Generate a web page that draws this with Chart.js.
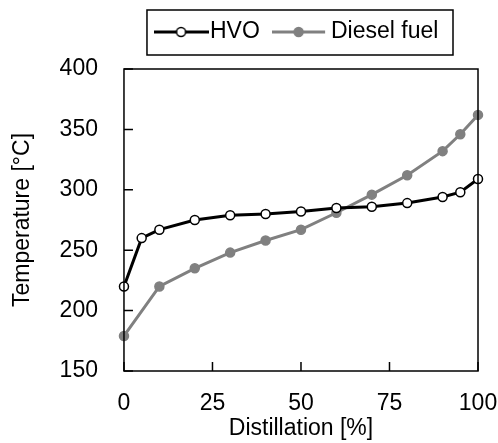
<!DOCTYPE html>
<html>
<head>
<meta charset="utf-8">
<script src="https://cdn.jsdelivr.net/npm/chart.js@4"></script>
<style>
html,body{margin:0;padding:0;background:#fff;}
#wrap{width:498px;height:443px;position:relative;}
</style>
</head>
<body>
<div id="wrap"><canvas id="c"></canvas></div>
<script>
// ---- data ----
const distHVO = [0, 5, 10, 20, 30, 40, 50, 60, 70, 80, 90, 95, 100];
const tempHVO = [220, 260, 267, 275, 279, 280, 282, 285, 286, 289, 294, 298, 309];
const distDiesel = [0, 10, 20, 30, 40, 50, 60, 70, 80, 90, 95, 100];
const tempDiesel = [179, 220, 235, 248, 258, 267, 281, 296, 312, 332, 346, 362];
const seriesNames = ['HVO', 'Diesel fuel'];
const xTicks = [0, 25, 50, 75, 100];
const yTicks = [150, 200, 250, 300, 350, 400];

const FONT = 'Liberation Sans, Arial, sans-serif';
const GRAY = '#808080';

function legendMarker(w, lineW, lineColor, fill, stroke) {
  const c = document.createElement('canvas');
  c.width = w; c.height = 14;
  const g = c.getContext('2d');
  g.strokeStyle = lineColor; g.lineWidth = 3;
  g.beginPath(); g.moveTo(0, 7); g.lineTo(lineW, 7); g.stroke();
  g.beginPath(); g.arc(lineW / 2, 7, 4.5, 0, Math.PI * 2);
  g.fillStyle = fill; g.fill();
  g.lineWidth = 1.5; g.strokeStyle = stroke; g.stroke();
  return c;
}
const mk1 = legendMarker(55, 55, '#000', '#fff', '#000');
const mk2 = legendMarker(60, 53, GRAY, GRAY, GRAY);

const frame = {
  id: 'frame',
  afterInit(chart) {
    const lg = chart.legend;
    if (lg && !lg._patched) {
      const orig = lg.fit;
      lg.fit = function () { orig.call(this); this.height += 15.5; };
      lg._patched = true;
    }
  },
  afterDraw(chart) {
    const ctx = chart.ctx, a = chart.chartArea;
    const xs = chart.scales.x, ys = chart.scales.y;
    ctx.save();
    ctx.strokeStyle = '#000'; ctx.lineWidth = 1.5;
    ctx.strokeRect(a.left, a.top, a.right - a.left, a.bottom - a.top);
    ctx.beginPath();
    yTicks.forEach(v => { const y = ys.getPixelForValue(v); ctx.moveTo(a.left, y); ctx.lineTo(a.left + 9, y); });
    xTicks.forEach(v => { const x = xs.getPixelForValue(v); ctx.moveTo(x, a.bottom); ctx.lineTo(x, a.bottom - 9); });
    ctx.stroke();
    const hb = chart.legend.legendHitBoxes;
    if (hb && hb.length) {
      const l = hb[0].left - 16.6, r = hb[hb.length - 1].left + hb[hb.length - 1].width + 14.6;
      const t = hb[0].top - 10.5, b = hb[0].top + 34.5;
      ctx.strokeRect(l, t, r - l, b - t);
    }
    ctx.restore();
  }
};

new Chart(document.getElementById('c'), {
  type: 'line',
  data: {
    datasets: [
      {
        label: seriesNames[0],
        data: distHVO.map((x, i) => ({x, y: tempHVO[i]})),
        borderColor: '#000', borderWidth: 3,
        pointRadius: 4.5, pointBorderWidth: 1.5,
        pointBackgroundColor: '#fff', pointBorderColor: '#000',
        pointStyle: 'circle', clip: false, tension: 0
      },
      {
        label: seriesNames[1],
        data: distDiesel.map((x, i) => ({x, y: tempDiesel[i]})),
        borderColor: GRAY, borderWidth: 3,
        pointRadius: 4.5, pointBorderWidth: 1.5,
        pointBackgroundColor: GRAY, pointBorderColor: GRAY,
        pointStyle: 'circle', clip: false, tension: 0
      }
    ]
  },
  options: {
    responsive: true, maintainAspectRatio: false, animation: false,
    layout: { padding: { left: 5, right: 20, top: -4.3, bottom: 0 } },
    plugins: {
      tooltip: { enabled: false },
      legend: {
        position: 'top', fullSize: false, align: 'center',
        labels: {
          usePointStyle: true, pointStyleWidth: 34.9, padding: 24.8,
          color: '#000', font: { family: FONT, size: 23 },
          generateLabels(chart) {
            return chart.data.datasets.map((d, i) => ({
              text: d.label, datasetIndex: i, fontColor: '#000',
              pointStyle: i === 0 ? mk1 : mk2, lineWidth: 0,
              fillStyle: 'transparent', strokeStyle: 'transparent'
            }));
          }
        }
      }
    },
    scales: {
      x: {
        type: 'linear', min: 0, max: 100,
        grid: { display: false, drawTicks: false },
        border: { display: false },
        afterBuildTicks(s) { s.ticks = xTicks.map(v => ({value: v})); },
        ticks: { padding: 0, color: '#000', font: { family: FONT, size: 23, lineHeight: '66px' }, maxRotation: 0 },
        title: { display: true, text: 'Distillation [%]', color: '#000', font: { family: FONT, size: 23 }, padding: { top: -21.8, bottom: 0.2 } }
      },
      y: {
        type: 'linear', min: 150, max: 400,
        grid: { display: false, drawTicks: false },
        border: { display: false },
        afterBuildTicks(s) { s.ticks = yTicks.map(v => ({value: v})); },
        ticks: { padding: 26, color: '#000', font: { family: FONT, size: 23 } },
        title: { display: true, text: 'Temperature [°C]', color: '#000', font: { family: FONT, size: 23 }, padding: { top: 4, bottom: -3 } }
      }
    }
  },
  plugins: [frame]
});
</script>
</body>
</html>
